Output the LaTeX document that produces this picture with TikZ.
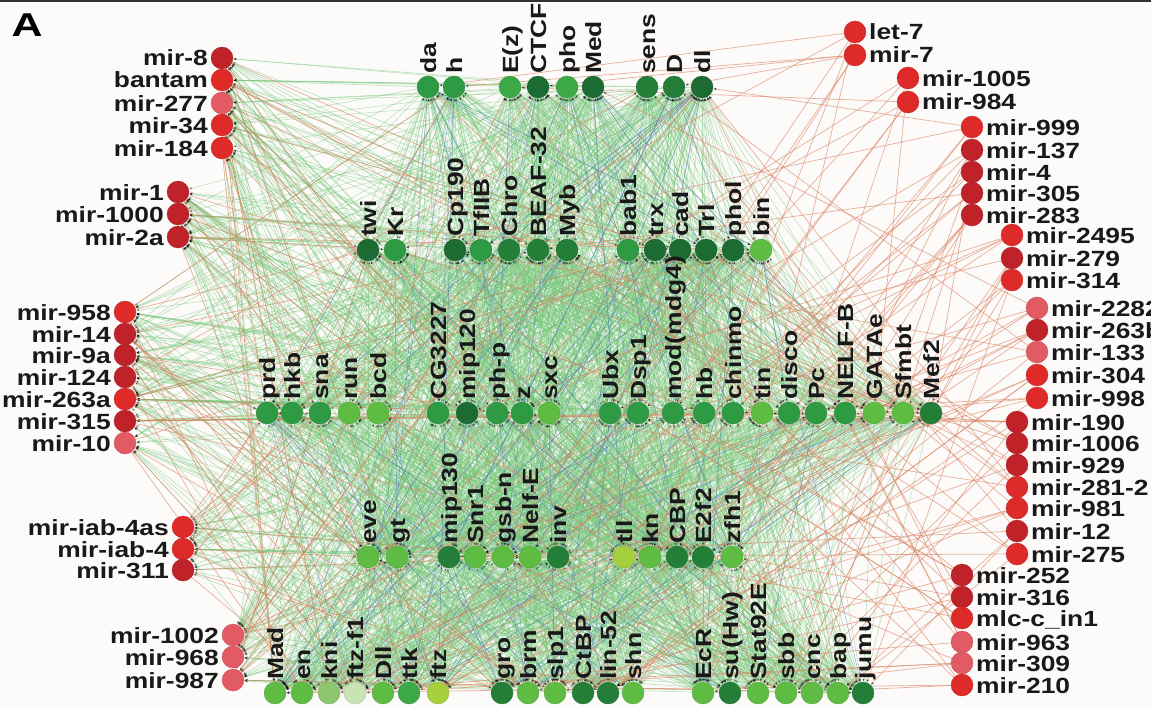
\documentclass[tikz,border=0pt]{standalone}
\usepackage{fontspec}
\setmainfont{Liberation Sans}
\newfontfamily\labfont{Liberation Sans}[FakeStretch=1.2]
\usetikzlibrary{arrows.meta}
\pgfdeclarelayer{back}
\pgfdeclarelayer{bg}
\pgfsetlayers{back,bg,main}
\definecolor{bgc}{HTML}{FDFBFA}
\definecolor{rA}{HTML}{C0222A}
\definecolor{rB}{HTML}{DF2A2A}
\definecolor{rC}{HTML}{E25A64}
\definecolor{gD}{HTML}{1B6B32}
\definecolor{gE}{HTML}{237F38}
\definecolor{gM}{HTML}{2E9A44}
\definecolor{gN}{HTML}{3DA846}
\definecolor{gL}{HTML}{5EBC42}
\definecolor{gY}{HTML}{A6CF3E}
\definecolor{gP}{HTML}{8EC66E}
\definecolor{gQ}{HTML}{C8E3B4}
\definecolor{eG}{HTML}{72C575}
\definecolor{eR}{HTML}{D9825F}
\definecolor{eB}{HTML}{4F7FC4}
\newcommand\rowof[2]{\ifnum#1<10 \def#2{1}\else\ifnum#1<23 \def#2{2}\else\ifnum#1<45 \def#2{3}\else\ifnum#1<57 \def#2{4}\else\def#2{5}\fi\fi\fi\fi}
\tikzset{
  dot/.style={circle,inner sep=0pt,minimum size=22pt,fill=#1,draw=#1!85!black,line width=0.3pt},
  lab/.style={font=\labfont\bfseries\fontsize{22}{22}\selectfont,inner sep=0pt,text=black!90},
  tip/.style={-{Stealth[length=3pt,width=2.4pt,black]},shorten >=0.5pt},
  gedge/.style={draw=eG,line width=0.65pt,opacity=0.45,tip},
  redge/.style={draw=eR,line width=0.75pt,opacity=0.6,tip},
  bedge/.style={draw=eB,line width=0.6pt,opacity=0.55,tip}
}
\begin{document}
\begin{tikzpicture}[x=1pt,y=-1pt]
\pgfmathsetseed{4711}
\useasboundingbox (0,0) rectangle (1151,709);
\begin{pgfonlayer}{back}
\fill[bgc] (0,0) rectangle (1151,709);
\end{pgfonlayer}
\draw[black!80,line width=1.6pt] (0,1) -- (1151,1);
\node[font=\bfseries\fontsize{33}{33}\selectfont,xscale=1.3,inner sep=0pt] (panelA) at (27,25) {A};

% miRNAs, labels on the left
\foreach \id/\x/\y/\t/\c in {
 r1/222/58/mir-8/rA, r2/222/80/bantam/rB, r3/222/103/mir-277/rC, r4/222/125/mir-34/rB, r5/222/148/mir-184/rB,
 r6/178/192/mir-1/rA, r7/178/214/mir-1000/rA, r8/178/237/mir-2a/rA,
 r9/125/312/mir-958/rB, r10/125/334/mir-14/rA, r11/125/355/mir-9a/rA, r12/125/377/mir-124/rA,
 r13/125/399/mir-263a/rB, r14/125/421/mir-315/rA, r15/125/443/mir-10/rC,
 r16/183/527/mir-iab-4as/rB, r17/183/549/mir-iab-4/rB, r18/183/570/mir-311/rA,
 r19/233/635/mir-1002/rC, r20/233/657/mir-968/rC, r21/233/680/mir-987/rC}
{
 \node[dot=\c] (\id) at (\x,\y) {};
 \node[lab,anchor=base east] (\id l) at ({\x-14},{\y+8}) {\t};
}
% miRNAs, labels on the right
\foreach \id/\x/\y/\t/\c in {
 r22/855/32/let-7/rB, r23/855/55/mir-7/rB, r24/908/78/mir-1005/rB, r25/908/102/mir-984/rB,
 r26/972/127/mir-999/rB, r27/972/150/mir-137/rA, r28/972/172/mir-4/rA, r29/972/193/mir-305/rA, r30/972/215/mir-283/rA,
 r31/1012/235/mir-2495/rB, r32/1012/258/mir-279/rA, r33/1012/280/mir-314/rB,
 r34/1037/308/mir-2282/rC, r35/1037/330/mir-263b/rA, r36/1037/352/mir-133/rC, r37/1037/375/mir-304/rB, r38/1037/398/mir-998/rB,
 r39/1017/422/mir-190/rA, r40/1017/443/mir-1006/rA, r41/1017/465/mir-929/rA, r42/1017/487/mir-281-2/rB,
 r43/1017/508/mir-981/rB, r44/1017/531/mir-12/rA, r45/1017/554/mir-275/rB,
 r46/962/575/mir-252/rA, r47/962/597/mir-316/rA, r48/962/618/mlc-c\_in1/rB, r49/962/642/mir-963/rC,
 r50/962/663/mir-309/rC, r51/962/685/mir-210/rB}
{
 \node[dot=\c] (\id) at (\x,\y) {};
 \node[lab,anchor=base west] (\id l) at ({\x+14},{\y+8}) {\t};
}
% transcription factors
\foreach \id/\x/\y/\t/\c in {
 g1/428/87/da/gM, g2/454/87/h/gM, g3/510/87/E(z)/gN, g4/538/87/CTCF/gD, g5/567/87/pho/gN,
 g6/593/87/Med/gD, g7/647/87/sens/gE, g8/674/87/D/gE, g9/702/87/dl/gD,
 g10/368/250/twi/gD, g11/395/250/Kr/gM, g12/455/250/Cp190/gD, g13/481/250/TfIIB/gM, g14/509/250/Chro/gE,
 g15/538/250/BEAF-32/gE, g16/567/250/Myb/gE, g17/628/250/bab1/gM, g18/655/250/trx/gD, g19/680/250/cad/gD,
 g20/706/250/Trl/gD, g21/733/250/phol/gD, g22/761/250/bin/gL,
 g23/267/413/prd/gM, g24/292/413/hkb/gM, g25/320/413/sna/gM, g26/349/413/run/gL, g27/378/413/bcd/gL,
 g28/438/413/CG3227/gM, g29/467/413/mip120/gD, g30/497/413/ph-p/gM, g31/522/413/z/gM, g32/549/413/sxc/gL,
 g33/610/413/Ubx/gM, g34/638/413/Dsp1/gM, g35/673/413/mod(mdg4)/gM, g36/704/413/hb/gM, g37/733/413/chinmo/gM,
 g38/762/413/tin/gL, g39/789/413/disco/gM, g40/816/413/Pc/gM, g41/845/413/NELF-B/gM, g42/874/413/GATAe/gL,
 g43/903/413/Sfmbt/gL, g44/931/413/Mef2/gE,
 g45/368/557/eve/gL, g46/397/557/gt/gL, g47/449/557/mip130/gE, g48/475/557/Snr1/gL, g49/503/557/gsb-n/gL,
 g50/530/557/Nelf-E/gL, g51/558/557/inv/gE, g52/624/557/tll/gY, g53/650/557/kn/gL, g54/677/557/CBP/gE,
 g55/703/557/E2f2/gE, g56/732/557/zfh1/gL,
 g57/275/693/Mad/gL, g58/302/693/en/gL, g59/329/693/kni/gP, g60/355/693/ftz-f1/gQ, g61/383/693/Dll/gL,
 g62/409/693/ttk/gN, g63/438/693/ftz/gY, g64/502/693/gro/gE, g65/528/693/brm/gL, g66/555/693/slp1/gL,
 g67/583/693/CtBP/gE, g68/608/693/lin-52/gE, g69/633/693/shn/gL, g70/703/693/EcR/gL, g71/730/693/su(Hw)/gE,
 g72/758/693/Stat92E/gL, g73/786/693/sbb/gL, g74/812/693/cnc/gL, g75/838/693/bap/gL, g76/863/693/jumu/gE}
{
 \node[dot=\c] (\id) at (\x,\y) {};
 \node[lab,rotate=90,anchor=base west] (\id l) at ({\x+8},{\y-13}) {\t};
}

\begin{pgfonlayer}{bg}
% TF -> TF regulation (green)
\foreach \i in {1,...,75}{
  \rowof{\i}{\ri}
  \pgfmathtruncatemacro\ii{\i+1}
  \foreach \j in {\ii,...,76}{
    \rowof{\j}{\rj}
    \pgfmathtruncatemacro\dd{\rj-\ri}
    \def\pp{0}
    \ifcase\dd\or\def\pp{78}\or\def\pp{65}\or\def\pp{55}\or\def\pp{48}\fi
    \pgfmathrandominteger{\rr}{0}{99}
    \ifnum\rr<\pp\relax
      \ifodd\rr \draw[gedge] (g\i) -- (g\j); \else \draw[gedge] (g\j) -- (g\i); \fi
    \fi
  }
}
% TF -> miRNA (green, left side)
\foreach \i in {1,...,21}{
  \foreach \j in {1,...,76}{
    \pgfmathrandominteger{\rr}{0}{99}
    \ifnum\rr<26 \draw[gedge] (g\j) -- (r\i); \fi
  }
}
% blue
\foreach \i in {1,...,55}{
  \rowof{\i}{\ri}
  \pgfmathtruncatemacro\ii{\i+1}
  \foreach \j in {\ii,...,76}{
    \rowof{\j}{\rj}
    \ifnum\ri<\rj
      \pgfmathrandominteger{\rr}{0}{99}
      \ifnum\rr<4 \draw[bedge] (g\i) -- (g\j); \fi
    \fi
  }
}
% miRNA -> TF (red)
\foreach \i in {1,...,51}{
  \foreach \k in {1,...,4}{
    \pgfmathrandominteger{\t}{1}{76}
    \draw[redge] (r\i) -- (g\t);
  }
}
\draw[redge] (r14) -- (g44);
\draw[redge] (r39) -- (g23);
\draw[redge] (r21) -- (g76);
\draw[redge] (r22) -- (g1);
\draw[redge] (r23) -- (g2);
\end{pgfonlayer}
\end{tikzpicture}
\end{document}
